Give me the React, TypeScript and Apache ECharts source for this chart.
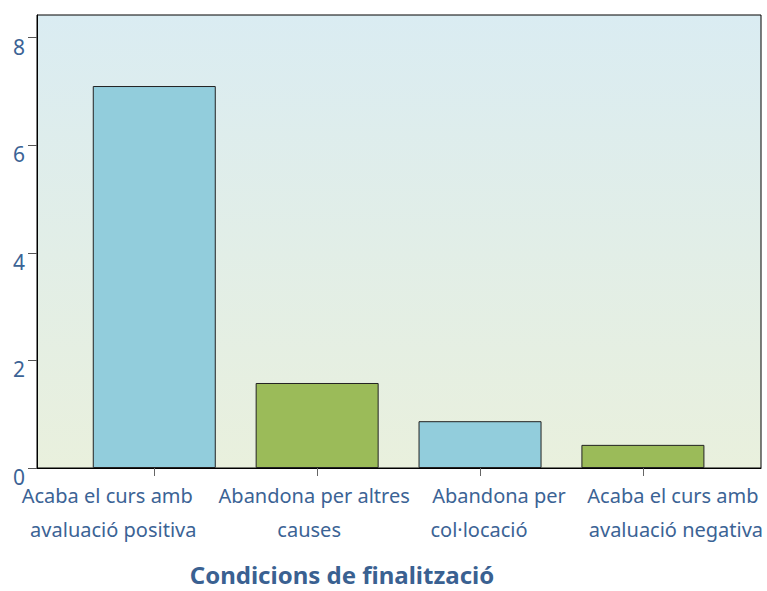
import React, { useEffect, useRef } from "react";
import * as echarts from "echarts";

const categories = [
  "Acaba el curs amb\navaluació positiva",
  "Abandona per altres\ncauses",
  "Abandona per\ncol·locació",
  "Acaba el curs amb\navaluació negativa",
];
const values = [7.1, 1.58, 0.87, 0.43];
const barColors = ["#92cddc", "#9bbb59", "#92cddc", "#9bbb59"];
const yTicks = [0, 2, 4, 6, 8];
const xTitle = "Condicions de finalització";

// horizontal shift (px) of each label line, as in the original layout
const lineShifts = [
  [-47, -41],
  [-3, -8],
  [19, -1],
  [30, 33],
];

const FONT = "'Noto Sans', sans-serif";
const TEXT_BLUE = "#3b6395";
const X_MIN = -0.72;
const X_MAX = 3.725;
const PLOT_W = 767 - 37 - 6;
const PX_PER_CAT = PLOT_W / (X_MAX - X_MIN);

export default function App() {
  const ref = useRef<HTMLDivElement>(null);

  useEffect(() => {
    document.body.style.margin = "0";
    const chart = echarts.init(ref.current!, undefined, { renderer: "svg" });

    const lineAxis = (j: number, margin: number, showLine: boolean) => ({
      type: "value",
      min: X_MIN,
      max: X_MAX,
      position: "bottom",
      splitLine: { show: false },
      axisLine: { show: showLine, onZero: false, lineStyle: { color: "#000", width: 1 } },
      axisTick: {
        show: showLine,
        customValues: categories.map((_, i) => i),
        length: 8,
        lineStyle: { color: "#666" },
      },
      axisLabel: {
        customValues: categories.map((_, i) => i + lineShifts[i][j] / PX_PER_CAT),
        showMinLabel: true,
        showMaxLabel: true,
        hideOverlap: false,
        margin,
        fontFamily: FONT,
        fontSize: 20,
        color: TEXT_BLUE,
        formatter: (v: number) => {
          const i = Math.round(v);
          return (categories[i] || "").split("\n")[j] || "";
        },
      },
    });

    chart.setOption({
      animation: false,
      grid: {
        left: 37,
        right: 6,
        top: 15,
        bottom: 123,
        containLabel: false,
        show: true,
        borderColor: "#000",
        borderWidth: 1,
        backgroundColor: new echarts.graphic.LinearGradient(0, 0, 0, 1, [
          { offset: 0, color: "#daecf2" },
          { offset: 1, color: "#e9f0dd" },
        ]),
      },
      xAxis: [lineAxis(0, 17, true), lineAxis(1, 51, false)],
      yAxis: {
        type: "value",
        min: 0,
        max: 8.42,
        splitLine: { show: false },
        axisLine: { show: true, onZero: false, lineStyle: { color: "#000", width: 1 } },
        axisTick: {
          show: true,
          customValues: yTicks,
          length: 9,
          lineStyle: { color: "#555" },
        },
        axisLabel: {
          customValues: yTicks,
          margin: 12,
          fontFamily: FONT,
          fontSize: 21,
          color: TEXT_BLUE,
          verticalAlign: "top",
          lineHeight: 18,
        },
      },
      graphic: [
        {
          type: "text",
          x: 342,
          y: 574,
          style: {
            text: xTitle,
            fontFamily: FONT,
            fontSize: 24,
            fontWeight: "bold",
            fill: "#3a6191",
            textAlign: "center",
            textVerticalAlign: "middle",
          },
        },
      ],
      series: [
        {
          type: "bar",
          xAxisIndex: 0,
          barWidth: 123,
          data: values.map((v, i) => ({
            value: [i, v],
            itemStyle: {
              color: barColors[i],
              borderColor: "#222",
              borderWidth: 1,
            },
          })),
        },
      ],
    });

    return () => chart.dispose();
  }, []);

  return <div ref={ref} style={{ width: 767, height: 591 }} />;
}
